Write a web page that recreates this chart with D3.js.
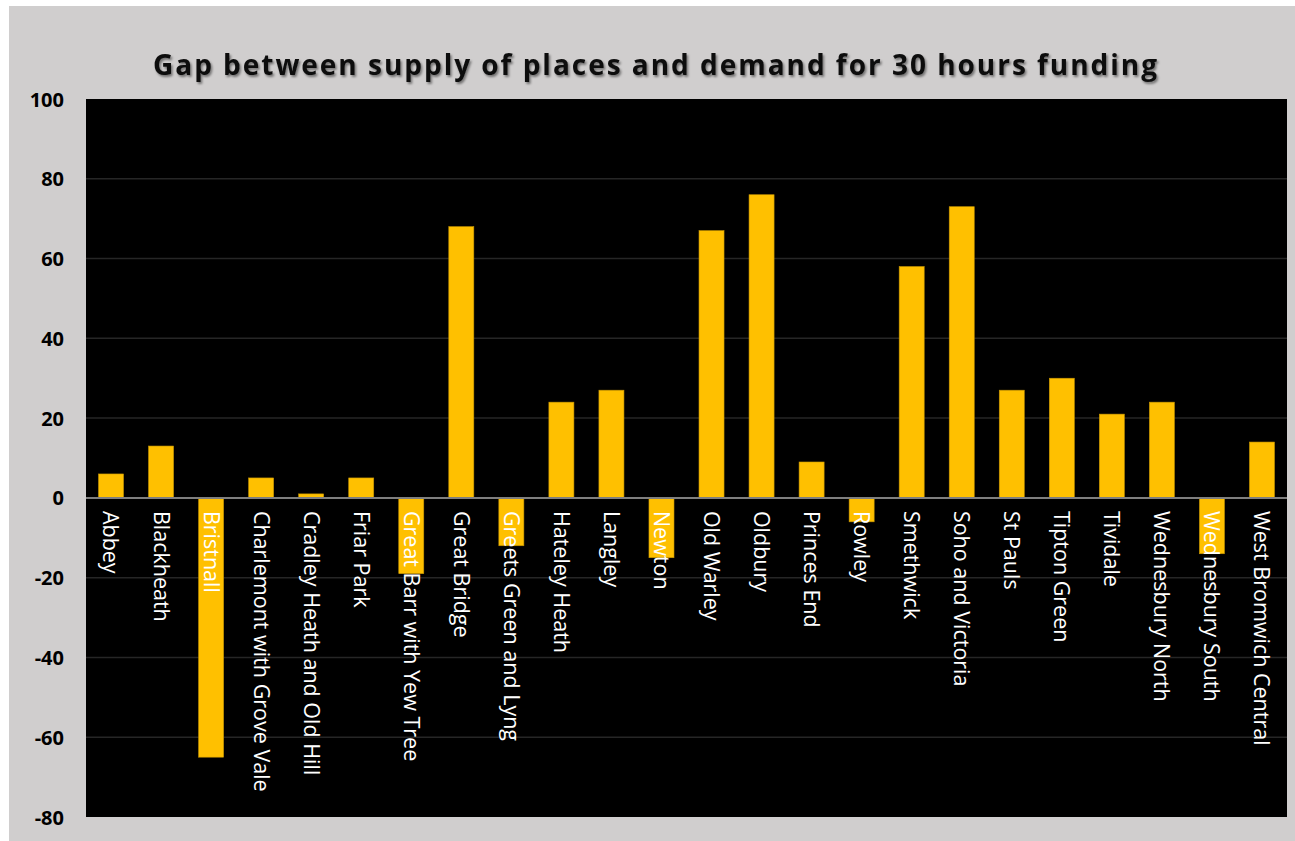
<html>
<head>
<meta charset="utf-8">
<title>Gap between supply of places and demand</title>
<script src="https://d3js.org/d3.v7.min.js"></script>
<style>
  body { margin: 0; background: #fff; }
  svg text { font-family: "Open Sans", sans-serif; }
</style>
</head>
<body>
<svg width="1295" height="841"></svg>
<script>
var wards = ["Abbey", "Blackheath", "Bristnall", "Charlemont with Grove Vale", "Cradley Heath and Old Hill",
  "Friar Park", "Great Barr with Yew Tree", "Great Bridge", "Greets Green and Lyng", "Hateley Heath",
  "Langley", "Newton", "Old Warley", "Oldbury", "Princes End", "Rowley", "Smethwick",
  "Soho and Victoria", "St Pauls", "Tipton Green", "Tividale", "Wednesbury North",
  "Wednesbury South", "West Bromwich Central"];
var gap = [6, 13, -65, 5, 1, 5, -19, 68, -12, 24, 27, -15, 67, 76, 9, -6, 58, 73, 27, 30, 21, 24, -14, 14];
var yTicks = [100, 80, 60, 40, 20, 0, -20, -40, -60, -80];
var chartTitle = "Gap between supply of places and demand for 30 hours funding";

var svg = d3.select("svg");
var pLeft = 86, pRight = 1287, pTop = 99, pBottom = 817;

// grey card behind everything
svg.append("rect").attr("x", 9).attr("y", 6).attr("width", 1286).attr("height", 835).attr("fill", "#d0cece");

// title with a soft shadow
var defs = svg.append("defs");
var f = defs.append("filter").attr("id", "shadow").attr("x", "-5%").attr("y", "-30%").attr("width", "110%").attr("height", "160%");
f.append("feDropShadow").attr("dx", 1.5).attr("dy", 2).attr("stdDeviation", 1.2).attr("flood-color", "#000").attr("flood-opacity", 0.45);

svg.append("text")
  .attr("x", 655).attr("y", 75)
  .attr("text-anchor", "middle")
  .attr("font-size", 28).attr("font-weight", "bold")
  .attr("textLength", 1004).attr("lengthAdjust", "spacing")
  .attr("fill", "#111")
  .attr("filter", "url(#shadow)")
  .text(chartTitle);

var x = d3.scaleBand().domain(wards).range([pLeft, pRight]).paddingInner(0.5).paddingOuter(0.25);
var y = d3.scaleLinear().domain([-80, 100]).range([pBottom, pTop]);

svg.append("rect").attr("x", pLeft).attr("y", pTop).attr("width", pRight - pLeft).attr("height", pBottom - pTop).attr("fill", "#000");

// gridlines
svg.append("g").selectAll("line").data(yTicks.filter(function(d) { return d != 0 && d != 100 && d != -80; }))
  .enter().append("line")
  .attr("x1", pLeft).attr("x2", pRight)
  .attr("y1", function(d) { return y(d); }).attr("y2", function(d) { return y(d); })
  .attr("stroke", "#262626").attr("stroke-width", 1.5);

// y axis labels (plain hyphen like the original)
var yAxis = svg.append("g").attr("transform", "translate(" + (pLeft - 22) + ",0)")
  .call(d3.axisLeft(y).tickValues(yTicks).tickSize(0).tickPadding(0).tickFormat(function(d) { return String(d); }));
yAxis.select(".domain").remove();
yAxis.selectAll("text")
  .attr("font-family", "'Liberation Sans', Arial, sans-serif")
  .attr("font-size", 20).attr("font-weight", "bold").attr("fill", "#000")
  .attr("dy", "0.35em");

// bars
svg.append("g").selectAll("rect").data(wards).enter().append("rect")
  .attr("x", function(d) { return x(d); })
  .attr("width", x.bandwidth())
  .attr("y", function(d, i) { return y(Math.max(0, gap[i])); })
  .attr("height", function(d, i) { return Math.abs(y(gap[i]) - y(0)); })
  .attr("fill", "#ffc000")
  .attr("stroke", "#c79500").attr("stroke-width", 0.6);

// zero line
svg.append("line").attr("x1", pLeft).attr("x2", pRight).attr("y1", y(0)).attr("y2", y(0))
  .attr("stroke", "#7f7f7f").attr("stroke-width", 2);

// category labels, rotated
svg.append("g").selectAll("text").data(wards).enter().append("text")
  .attr("transform", function(d) { return "translate(" + (x(d) + x.bandwidth() / 2) + "," + (y(0) + 13) + ") rotate(90)"; })
  .attr("dy", "0.35em")
  .attr("font-size", 21.5)
  .attr("fill", "#fff")
  .text(function(d) { return d; });
</script>
</body>
</html>
